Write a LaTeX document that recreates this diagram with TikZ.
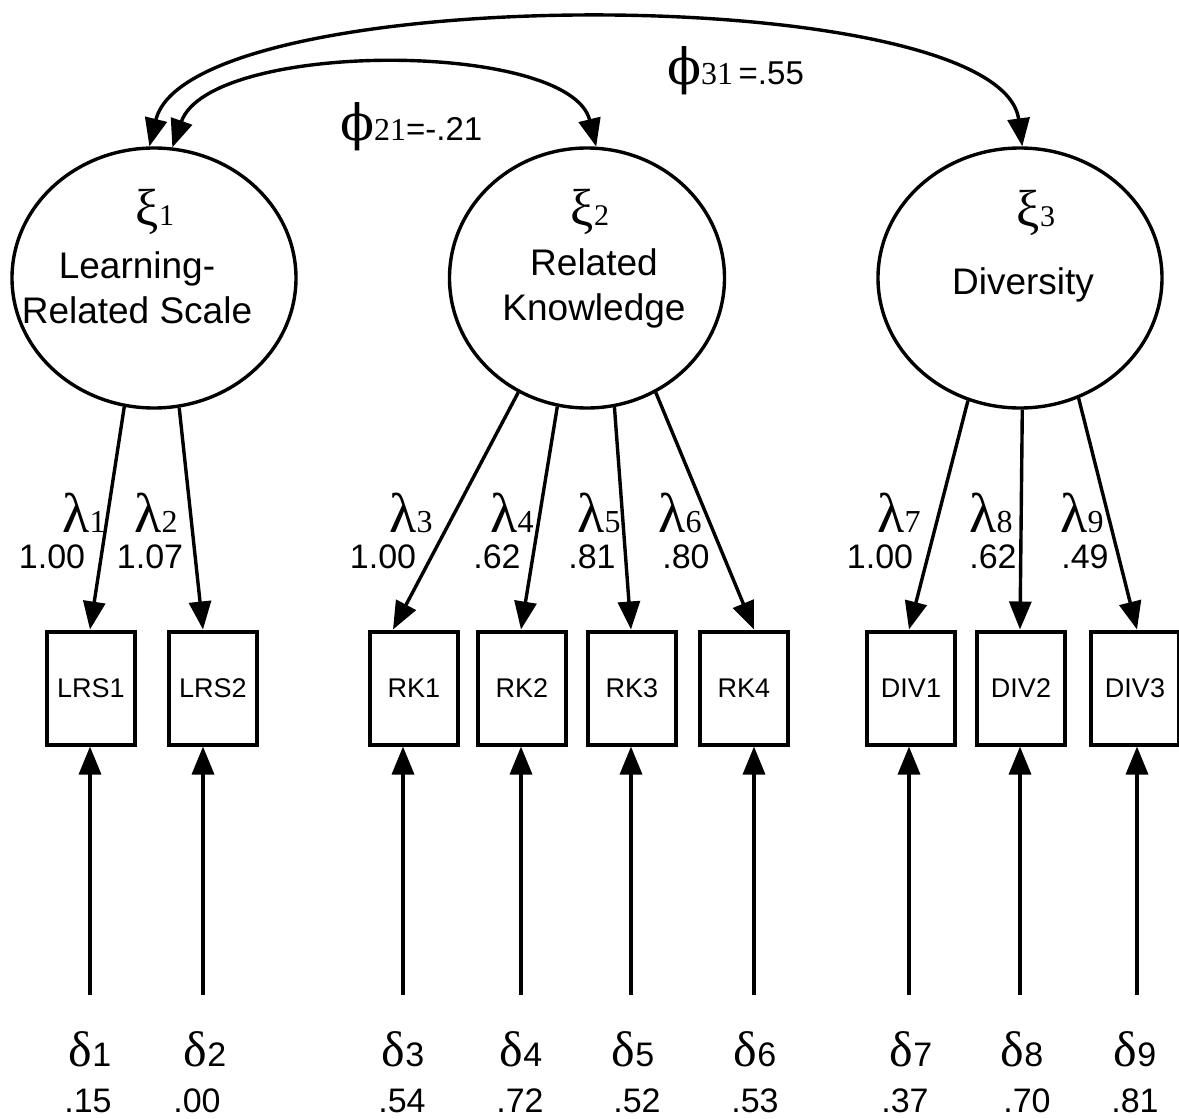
\documentclass[tikz,border=0pt]{standalone}
\usepackage{fontspec}
\setmainfont{Liberation Sans}
\newfontfamily\grkfont{Liberation Serif}
\newfontfamily\phifont{DejaVu Serif}
\usepackage{tikz}
\usetikzlibrary{arrows.meta, shapes.geometric}

\newcommand{\xilab}[1]{{\grkfont\fontsize{26}{26}\selectfont ξ}{\grkfont\fontsize{15}{15}\selectfont #1}}
\newcommand{\lamlab}[1]{{\grkfont\fontsize{28}{28}\selectfont λ}{\grkfont\fontsize{16}{16}\selectfont #1}}
\newcommand{\dltlab}[1]{{\grkfont\fontsize{25}{25}\selectfont δ}{\fontsize{17}{17}\selectfont #1}}
\newcommand{\philab}[1]{{\phifont\fontsize{25}{25}\selectfont ϕ}{\grkfont\fontsize{16}{16}\selectfont #1}}

\begin{document}
\begin{tikzpicture}[x=0.5pt, y=-0.5pt,
    latent/.style={draw, ellipse, line width=1.7pt, minimum width=142pt, minimum height=130pt, inner sep=0pt},
    obs/.style={draw, rectangle, line width=2pt, minimum width=44pt, minimum height=56.5pt, inner sep=0pt, font=\fontsize{13.5}{13.5}\selectfont},
    load/.style={-{Triangle[length=14pt, width=11pt]}, line width=1.7pt},
    corr/.style={{Triangle[length=14pt, width=11pt]}-{Triangle[length=14pt, width=11pt]}, line width=1.7pt},
    latname/.style={align=center, font=\fontsize{18.5}{22.5}\selectfont},
    coef/.style={anchor=base, font=\fontsize{17}{17}\selectfont}
]
\useasboundingbox (0,0) rectangle (1179,1119);

% --- LATENT FACTORS ---
\node[latent] (xi1) at (154,278) {};
\node[latent, minimum width=137.5pt] (xi2) at (587,278) {};
\node[latent] (xi3) at (1020,278) {};

\node (xi1sym) at (155,212) {\xilab{1}};
\node (xi2sym) at (590,212) {\xilab{2}};
\node (xi3sym) at (1036,213) {\xilab{3}};
\node[latname] (xi1txt) at (137,288) {Learning-\\Related Scale};
\node[latname] (xi2txt) at (594,288) {Related\\Knowledge};
\node[latname] (xi3txt) at (1023,285) {Diversity};

% --- INDICATORS ---
\node[obs] (lrs1) at (91,688) {LRS1};
\node[obs] (lrs2) at (213,688) {LRS2};
\node[obs] (rk1) at (414,688) {RK1};
\node[obs] (rk2) at (522,688) {RK2};
\node[obs] (rk3) at (632,688) {RK3};
\node[obs] (rk4) at (744,688) {RK4};
\node[obs] (div1) at (911,688) {DIV1};
\node[obs] (div2) at (1021,688) {DIV2};
\node[obs] (div3) at (1135,688) {DIV3};

% --- ERROR TERMS ---
\coordinate (e1) at (90,995);
\coordinate (e2) at (203,995);
\coordinate (e3) at (403,995);
\coordinate (e4) at (521,995);
\coordinate (e5) at (631,995);
\coordinate (e6) at (754,995);
\coordinate (e7) at (909,995);
\coordinate (e8) at (1020,995);
\coordinate (e9) at (1137,995);

\draw[load] (e1) -- (lrs1.south -| e1);
\draw[load] (e2) -- (lrs2.south -| e2);
\draw[load] (e3) -- (rk1.south -| e3);
\draw[load] (e4) -- (rk2.south -| e4);
\draw[load] (e5) -- (rk3.south -| e5);
\draw[load] (e6) -- (rk4.south -| e6);
\draw[load] (e7) -- (div1.south -| e7);
\draw[load] (e8) -- (div2.south -| e8);
\draw[load] (e9) -- (div3.south -| e9);

\node[coef, font=\normalfont] (d1) at (90,1066) {\dltlab{1}};
\node[coef, font=\normalfont] (d2) at (205,1066) {\dltlab{2}};
\node[coef, font=\normalfont] (d3) at (403,1066) {\dltlab{3}};
\node[coef, font=\normalfont] (d4) at (521,1066) {\dltlab{4}};
\node[coef, font=\normalfont] (d5) at (633,1066) {\dltlab{5}};
\node[coef, font=\normalfont] (d6) at (755,1066) {\dltlab{6}};
\node[coef, font=\normalfont] (d7) at (911,1066) {\dltlab{7}};
\node[coef, font=\normalfont] (d8) at (1022,1066) {\dltlab{8}};
\node[coef, font=\normalfont] (d9) at (1135,1066) {\dltlab{9}};

\node[coef] (dv1) at (88,1112) {.15};
\node[coef] (dv2) at (197,1112) {.00};
\node[coef] (dv3) at (402,1112) {.54};
\node[coef] (dv4) at (520,1112) {.72};
\node[coef] (dv5) at (637,1112) {.52};
\node[coef] (dv6) at (755,1112) {.53};
\node[coef] (dv7) at (905,1112) {.37};
\node[coef] (dv8) at (1027,1112) {.70};
\node[coef] (dv9) at (1135,1112) {.81};

% --- LOADINGS ---
\draw[load] (xi1.257) -- (lrs1.north -| e1);
\draw[load] (xi1.281) -- (lrs2.north -| e2);
\draw[load] (xi2.239) -- ([xshift=-5pt]rk1.north -| e3);
\draw[load] (xi2.257) -- (rk2.north -| e4);
\draw[load] (xi2.282) -- (rk3.north -| e5);
\draw[load] (xi2.301) -- (rk4.north -| e6);
\draw[load] (xi3.247) -- (div1.north -| e7);
\draw[load] (xi3.271) -- (div2.north -| e8);
\draw[load] (xi3.296) -- (div3.north -| e9);

\node[coef, font=\normalfont] (l1) at (84,532) {\lamlab{1}};
\node[coef, font=\normalfont] (l2) at (156,532) {\lamlab{2}};
\node[coef, font=\normalfont] (l3) at (411,532) {\lamlab{3}};
\node[coef, font=\normalfont] (l4) at (512,532) {\lamlab{4}};
\node[coef, font=\normalfont] (l5) at (599,532) {\lamlab{5}};
\node[coef, font=\normalfont] (l6) at (680,532) {\lamlab{6}};
\node[coef, font=\normalfont] (l7) at (899,532) {\lamlab{7}};
\node[coef, font=\normalfont] (l8) at (991,532) {\lamlab{8}};
\node[coef, font=\normalfont] (l9) at (1082,532) {\lamlab{9}};

\node[coef] (lv1) at (52,568) {1.00};
\node[coef] (lv2) at (150,568) {1.07};
\node[coef] (lv3) at (383,568) {1.00};
\node[coef] (lv4) at (497,568) {.62};
\node[coef] (lv5) at (592,568) {.81};
\node[coef] (lv6) at (686,568) {.80};
\node[coef] (lv7) at (880,568) {1.00};
\node[coef] (lv8) at (993,568) {.62};
\node[coef] (lv9) at (1085,568) {.49};

% --- CORRELATIONS ---
\draw[corr] (xi1.92) .. controls (190,-20) and (1000,-20) .. (xi3.89);
\draw[corr] (xi1.82) .. controls (210,40) and (570,40) .. (xi2.86);

\node[anchor=base west] (phi31) at (660,84) {\philab{31}\ \fontsize{16.5}{16.5}\selectfont =.55};
\node[anchor=base west] (phi21) at (333,140) {\philab{21}\fontsize{16.5}{16.5}\selectfont =-.21};
\end{tikzpicture}
\end{document}
